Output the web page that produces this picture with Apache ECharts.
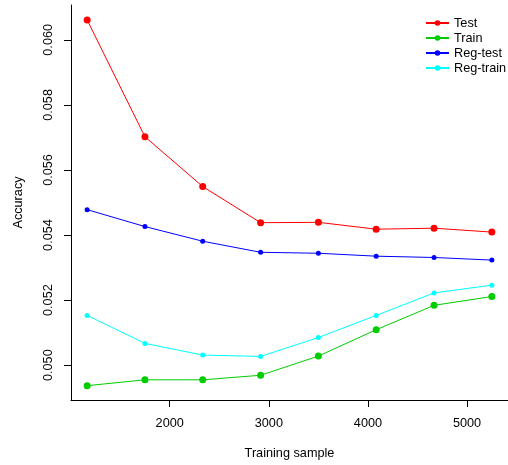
<!DOCTYPE html>
<html>
<head>
<meta charset="utf-8">
<script src="https://cdn.jsdelivr.net/npm/echarts@6/dist/echarts.min.js"></script>
<style>
  html, body { margin: 0; padding: 0; background: #fff; }
  #lineChart { width: 508px; height: 465px; }
</style>
</head>
<body>
<div id="lineChart"></div>
<script>
// training sample sizes (x)
var samples = [1167, 1750, 2333, 2917, 3500, 4083, 4667, 5250];
// accuracy values
var testAcc = [0.06061, 0.05702, 0.05549, 0.05438, 0.05439, 0.05418, 0.05421, 0.05409];
var trainAcc = [0.04937, 0.04955, 0.04955, 0.04969, 0.05028, 0.05109, 0.05184, 0.05211];
var regTestAcc = [0.05478, 0.05426, 0.05381, 0.05347, 0.05344, 0.05335, 0.05331, 0.05323];
var regTrainAcc = [0.05153, 0.05067, 0.05031, 0.05027, 0.05085, 0.05153, 0.05222, 0.05246];
// tick labels
var xTicks = [2000, 3000, 4000, 5000];
var yTicks = [0.050, 0.052, 0.054, 0.056, 0.058, 0.060];
var names = ['Test', 'Train', 'Reg-test', 'Reg-train'];
var colors = ['#ff0000', '#00cd00', '#0000ff', '#00ffff'];

var fontColor = '#000';
var fontSize = 12.7;
var fontFamily = 'Liberation Sans, Arial, sans-serif';

function pairs(ys) {
  return samples.map(function (x, i) { return [x, ys[i]]; });
}

function makeSeries(name, ys, color, size) {
  return {
    name: name,
    type: 'line',
    symbol: 'circle',
    symbolSize: size,
    itemStyle: { color: color },
    lineStyle: { color: color, width: 1 },
    data: pairs(ys)
  };
}

var lineChart = echarts.init(document.getElementById('lineChart'));
var option = {
  animation: false,
  backgroundColor: '#fff',
  color: colors,
  textStyle: { fontFamily: fontFamily, color: fontColor },
  legend: {
    orient: 'vertical',
    left: 420,
    top: 11,
    itemWidth: 23,
    itemHeight: 7,
    itemGap: 1,
    data: names,
    textStyle: { fontSize: fontSize, lineHeight: 14, color: fontColor, fontFamily: fontFamily }
  },
  grid: {
    left: 71,
    right: -6,
    top: 5,
    bottom: 64
  },
  xAxis: {
    type: 'value',
    min: 1004,
    max: 5413,
    name: 'Training sample',
    nameLocation: 'middle',
    nameGap: 47,
    nameTextStyle: { fontSize: fontSize, color: fontColor },
    splitLine: { show: false },
    axisLine: { show: true, onZero: false, lineStyle: { color: '#000', width: 1 } },
    axisTick: { show: true, length: 7, customValues: xTicks, lineStyle: { color: '#000' } },
    axisLabel: {
      customValues: xTicks,
      margin: 17,
      fontSize: fontSize,
      color: fontColor,
      formatter: function (v) { return String(v); }
    }
  },
  yAxis: {
    type: 'value',
    min: 0.04893,
    max: 0.06107,
    name: 'Accuracy',
    nameLocation: 'middle',
    nameRotate: 90,
    nameGap: 46,
    nameTextStyle: { fontSize: fontSize, color: fontColor },
    splitLine: { show: false },
    axisLine: { show: true, onZero: false, lineStyle: { color: '#000', width: 1 } },
    axisTick: { show: true, length: 7, customValues: yTicks, lineStyle: { color: '#000' } },
    axisLabel: {
      customValues: yTicks,
      rotate: 90,
      margin: 16,
      fontSize: fontSize,
      color: fontColor,
      formatter: function (v) { return v.toFixed(3); }
    }
  },
  series: [
    makeSeries(names[0], testAcc, colors[0], 7),
    makeSeries(names[1], trainAcc, colors[1], 7),
    makeSeries(names[2], regTestAcc, colors[2], 5),
    makeSeries(names[3], regTrainAcc, colors[3], 5)
  ]
};
lineChart.setOption(option);
</script>
</body>
</html>
